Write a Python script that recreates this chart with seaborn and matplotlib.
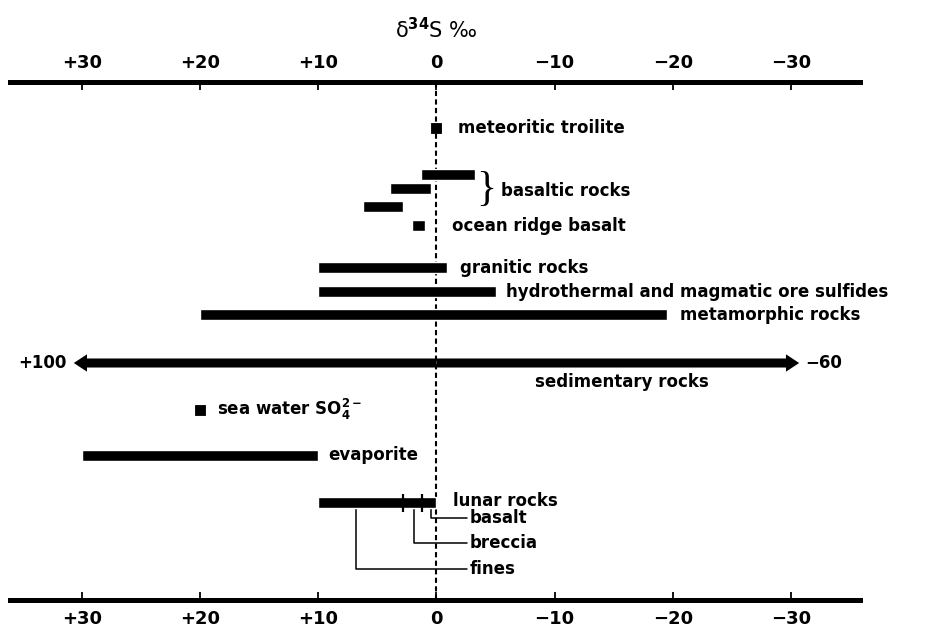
"""
Sulfur isotope (delta 34S) ranges of natural materials, drawn as a
schematic range chart with a reversed x axis.
"""

import matplotlib
matplotlib.use("Agg")
import matplotlib.pyplot as plt
import pandas as pd
import seaborn as sns

# ---- data (delta 34S in per mil) ----
tick_values = [30, 20, 10, 0, -10, -20, -30]
tick_labels = ["+30", "+20", "+10", "0", "\u221210", "\u221220", "\u221230"]

bar_names = ["basaltic rocks 1", "basaltic rocks 2", "basaltic rocks 3",
             "ocean ridge basalt", "granitic rocks",
             "hydrothermal and magmatic ore sulfides", "metamorphic rocks",
             "evaporite", "lunar rocks"]
bar_high = [1.3, 3.9, 6.2, 2.1, 10.0, 10.0, 20.0, 30.0, 10.0]
bar_low = [-3.3, 0.5, 2.8, 1.0, -0.9, -5.0, -19.5, 10.0, 0.0]

point_names = ["meteoritic troilite", "sea water SO4"]
point_values = [0.0, 20.0]

sed_label = "sedimentary rocks"
sed_range_labels = ["+100", "\u221260"]   # range runs off the scale

lunar_marks = [2.8, 1.2]
lunar_parts = ["basalt", "breccia", "fines"]
lunar_part_x = [0.5, 1.9, 6.8]

# ---- layout (row positions in pixel-like units, y grows downward) ----
rows = {
    "meteoritic troilite": 128,
    "basaltic rocks 1": 175, "basaltic rocks 2": 189, "basaltic rocks 3": 207,
    "ocean ridge basalt": 226,
    "granitic rocks": 268,
    "hydrothermal and magmatic ore sulfides": 292,
    "metamorphic rocks": 315,
    "sedimentary rocks": 363,
    "sea water SO4": 410,
    "evaporite": 456,
    "lunar rocks": 503,
}
part_rows = [518, 543, 569]
Y_TOP, Y_BOT = 82, 600
X_LEFT, X_RIGHT = 36.1, -35.85
BAR_H = 11
ARROW_REACH = 30.7

sns.set_theme(style="white")
plt.rcParams["font.family"] = ["DejaVu Sans"]
plt.rcParams["font.weight"] = "bold"
plt.rcParams["text.color"] = "black"

fig = plt.figure(figsize=(9.52, 6.3), dpi=100)
ax = fig.add_axes([10 / 952, 1 - Y_BOT / 630, 850 / 952, (Y_BOT - Y_TOP) / 630])
ax.set_xlim(X_LEFT, X_RIGHT)
ax.set_ylim(Y_BOT, Y_TOP)

TXT = dict(fontsize=12, fontweight="bold", va="center", color="black")

# zero reference line
ax.axvline(0, color="black", lw=1.5, ls=(0, (2.5, 1.6)), zorder=1)

# range bars
bars = pd.DataFrame({"name": bar_names, "high": bar_high, "low": bar_low})
bars["row"] = bars["name"].map(rows)
ax.barh(bars["row"], bars["low"] - bars["high"], left=bars["high"],
        height=BAR_H, color="black", zorder=3)

# single values as squares
points = pd.DataFrame({"name": point_names, "value": point_values})
points["row"] = points["name"].map(rows)
sns.scatterplot(data=points, x="value", y="row", marker="s", s=60,
                color="black", edgecolor="black", ax=ax, zorder=3, legend=False)

# sedimentary rocks: double arrow, range exceeds the scale
ys = rows["sedimentary rocks"]
for end in (ARROW_REACH, -ARROW_REACH):
    ax.annotate("", xy=(end, ys), xytext=(0, ys),
                arrowprops=dict(arrowstyle="simple,head_length=0.95,head_width=1.25,tail_width=0.65",
                                mutation_scale=10, fc="black", ec="none",
                                shrinkA=0, shrinkB=0), zorder=3)
ax.text(ARROW_REACH + 0.6, ys, sed_range_labels[0], ha="right", **TXT)
ax.text(-ARROW_REACH - 0.5, ys, sed_range_labels[1], ha="left", **TXT)
ax.text(-15.7, ys + 19, sed_label, ha="center", **TXT)

# lunar rocks: sample markers and leader lines
yl = rows["lunar rocks"]
ax.vlines(lunar_marks, yl - 9, yl + 9, color="black", lw=1.6, zorder=4)
for part, x, yr in zip(lunar_parts, lunar_part_x, part_rows):
    ax.plot([x, x, -2.55], [yl + BAR_H / 2, yr, yr], color="black", lw=1.1, zorder=2)
    ax.text(-2.8, yr, part, ha="left", **TXT)

# labels
ax.text(-1.8, rows["meteoritic troilite"], "meteoritic troilite", ha="left", **TXT)
ax.text(-4.2, 190, "}", ha="center", va="center", fontsize=30,
        fontweight="normal", family=["Liberation Serif", "DejaVu Serif"])
ax.text(-5.5, 191, "basaltic rocks", ha="left", **TXT)
ax.text(-1.3, rows["ocean ridge basalt"], "ocean ridge basalt", ha="left", **TXT)
ax.text(-2.0, rows["granitic rocks"], "granitic rocks", ha="left", **TXT)
ax.text(-5.9, rows["hydrothermal and magmatic ore sulfides"],
        "hydrothermal and magmatic ore sulfides", ha="left", **TXT)
ax.text(-20.6, rows["metamorphic rocks"], "metamorphic rocks", ha="left", **TXT)
ax.text(18.6, rows["sea water SO4"] - 1,
        r"sea water SO$_\mathbf{4}^{\mathbf{2-}}$", ha="left", **TXT)
ax.text(9.2, rows["evaporite"] - 1, "evaporite", ha="left", **TXT)
ax.text(-1.4, yl - 2, "lunar rocks", ha="left", **TXT)

# axes: thick lines top and bottom, ticks pointing inward
for side in ("left", "right"):
    ax.spines[side].set_visible(False)
for side in ("top", "bottom"):
    ax.spines[side].set_visible(True)
    ax.spines[side].set_linewidth(3.6)
    ax.spines[side].set_color("black")
ax.set_yticks([])
ax.set_xticks(tick_values, labels=tick_labels)
ax.tick_params(axis="x", top=True, bottom=True, labeltop=True, labelbottom=True,
               direction="in", length=6, width=1.3, pad=7, labelsize=13,
               colors="black")
for lab in ax.get_xticklabels(which="both"):
    lab.set_fontweight("bold")
ax.set_xlabel("")
ax.set_ylabel("")

fig.text(436.5 / 952, 1 - 30 / 630, "\u03b4$^{34}$S \u2030",
         ha="center", va="center", fontsize=15, fontweight="normal", color="black")

fig.savefig("out.png", dpi=100)
